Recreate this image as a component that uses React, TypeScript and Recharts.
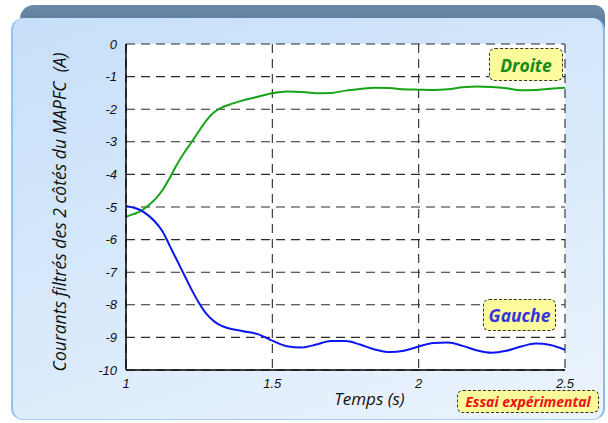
import React from "react";
import { LineChart, Line, XAxis, YAxis, CartesianGrid } from "recharts";

const times = [1.0, 1.025, 1.05, 1.075, 1.1, 1.125, 1.15, 1.175, 1.2, 1.225, 1.25, 1.275, 1.3, 1.325, 1.35, 1.4, 1.45, 1.5, 1.55, 1.6, 1.65, 1.7, 1.75, 1.8, 1.85, 1.9, 1.95, 2.0, 2.05, 2.1, 2.15, 2.2, 2.25, 2.3, 2.35, 2.4, 2.45, 2.5];
const droite = [-5.3, -5.22, -5.13, -4.96, -4.76, -4.48, -4.1, -3.68, -3.32, -3.0, -2.66, -2.34, -2.1, -1.96, -1.87, -1.73, -1.62, -1.51, -1.46, -1.47, -1.51, -1.5, -1.43, -1.38, -1.34, -1.35, -1.39, -1.4, -1.41, -1.39, -1.33, -1.3, -1.32, -1.36, -1.42, -1.41, -1.37, -1.34];
const gauche = [-4.97, -5.02, -5.1, -5.25, -5.46, -5.75, -6.2, -6.65, -7.1, -7.55, -7.95, -8.28, -8.5, -8.64, -8.72, -8.81, -8.9, -9.1, -9.27, -9.31, -9.22, -9.11, -9.11, -9.22, -9.37, -9.45, -9.41, -9.28, -9.17, -9.16, -9.26, -9.4, -9.47, -9.41, -9.28, -9.19, -9.23, -9.38];
const xTicks = [1, 1.5, 2, 2.5];
const yTicks = [0, -1, -2, -3, -4, -5, -6, -7, -8, -9, -10];
const seriesNames = ["Droite", "Gauche"];
const xTitle = "Temps (s)";
const yTitle = "Courants filtrés des 2 côtés du MAPFC\u00a0\u00a0(A)";
const noteText = "Essai expérimental";

const data = times.map((t, i) => ({ t, droite: droite[i], gauche: gauche[i] }));

const tickStyle = { fontFamily: "'Liberation Sans', Arial, sans-serif", fontStyle: "italic", fontSize: 13, fill: "#111" };
const titleFont = "'Open Sans', 'DejaVu Sans', sans-serif";
const boxFont = "'Open Sans', 'DejaVu Sans', sans-serif";

const boxStyle = (left: number, top: number, w: number, h: number): React.CSSProperties => ({
  position: "absolute",
  left,
  top,
  width: w,
  height: h,
  background: "#fbfb9c",
  border: "1.5px dashed #333",
  borderRadius: 6,
  boxSizing: "border-box",
  display: "flex",
  alignItems: "center",
  justifyContent: "center",
  fontFamily: boxFont,
  fontStyle: "italic",
  fontWeight: 700,
});

export default function App() {
  return (
    <div style={{ position: "absolute", left: 0, top: 0, width: 608, height: 423, background: "#fff", overflow: "hidden" }}>
      <div
        style={{
          position: "absolute",
          left: 20,
          top: 5,
          width: 585,
          height: 30,
          background: "linear-gradient(to bottom, #6c8aaa, #557595)",
          borderTopLeftRadius: 14,
          borderTopRightRadius: 10,
        }}
      />
      <div
        style={{
          position: "absolute",
          left: 11,
          top: 18,
          width: 594,
          height: 402,
          background: "linear-gradient(160deg, #c6dff8 0%, #d8e9fb 50%, #ecf4fd 100%)",
          borderLeft: "2px solid #93c3f0",
          borderRight: "2px solid #8ab9ea",
          borderBottom: "1px solid #a9cdf1",
          borderRadius: 12,
          boxSizing: "border-box",
        }}
      />
      <div style={{ position: "absolute", left: 0, top: 0 }}>
        <LineChart width={608} height={423} data={data} margin={{ top: 44, right: 43, left: 36, bottom: 23 }}>
          <CartesianGrid
            fill="#ffffff"
            stroke="#2a2a2a"
            strokeDasharray="9 6"
            strokeWidth={1.1}
            horizontalValues={yTicks}
            verticalValues={xTicks}
          />
          <XAxis
            dataKey="t"
            type="number"
            domain={[1, 2.5]}
            ticks={xTicks}
            allowDataOverflow
            height={30}
            tickLine={false}
            axisLine={{ stroke: "#000", strokeWidth: 1.5 }}
            tick={tickStyle}
            tickMargin={3}
            label={{
              content: (props: any) => {
                const vb = props.viewBox || {};
                return (
                  <text
                    x={vb.x + vb.width / 2 + 24}
                    y={vb.y + 28}
                    textAnchor="middle"
                    dominantBaseline="central"
                    style={{ fontFamily: titleFont, fontStyle: "italic", fontSize: 17, fill: "#111", fontWeight: 500 }}
                  >
                    {xTitle}
                  </text>
                );
              },
            }}
          />
          <YAxis
            type="number"
            domain={[-10, 0]}
            ticks={yTicks}
            allowDataOverflow
            width={90}
            tickLine={false}
            axisLine={{ stroke: "#000", strokeWidth: 1.5 }}
            tick={tickStyle}
            tickMargin={3}
            label={{
              content: (props: any) => {
                const vb = props.viewBox || {};
                const cx = vb.x + 23;
                const cy = vb.y + vb.height / 2 + 5;
                return (
                  <text
                    x={cx}
                    y={cy}
                    transform={`rotate(-90, ${cx}, ${cy})`}
                    textAnchor="middle"
                    dominantBaseline="central"
                    style={{ fontFamily: titleFont, fontStyle: "italic", fontSize: 17.5, fill: "#111" }}
                  >
                    {yTitle}
                  </text>
                );
              },
            }}
          />
          <Line
            name={seriesNames[0]}
            type="monotone"
            dataKey="droite"
            stroke="#16a316"
            strokeWidth={2}
            dot={false}
            isAnimationActive={false}
          />
          <Line
            name={seriesNames[1]}
            type="monotone"
            dataKey="gauche"
            stroke="#0b16f2"
            strokeWidth={2}
            dot={false}
            isAnimationActive={false}
          />
        </LineChart>
      </div>
      <div style={{ ...boxStyle(489, 48, 74, 33), color: "#178a17", fontSize: 17.5 }}>{seriesNames[0]}</div>
      <div style={{ ...boxStyle(483, 299, 73, 32), color: "#3535d8", fontSize: 17.5 }}>{seriesNames[1]}</div>
      <div style={{ ...boxStyle(457, 390, 142, 23), color: "#ee1111", fontSize: 14 }}>{noteText}</div>
    </div>
  );
}
